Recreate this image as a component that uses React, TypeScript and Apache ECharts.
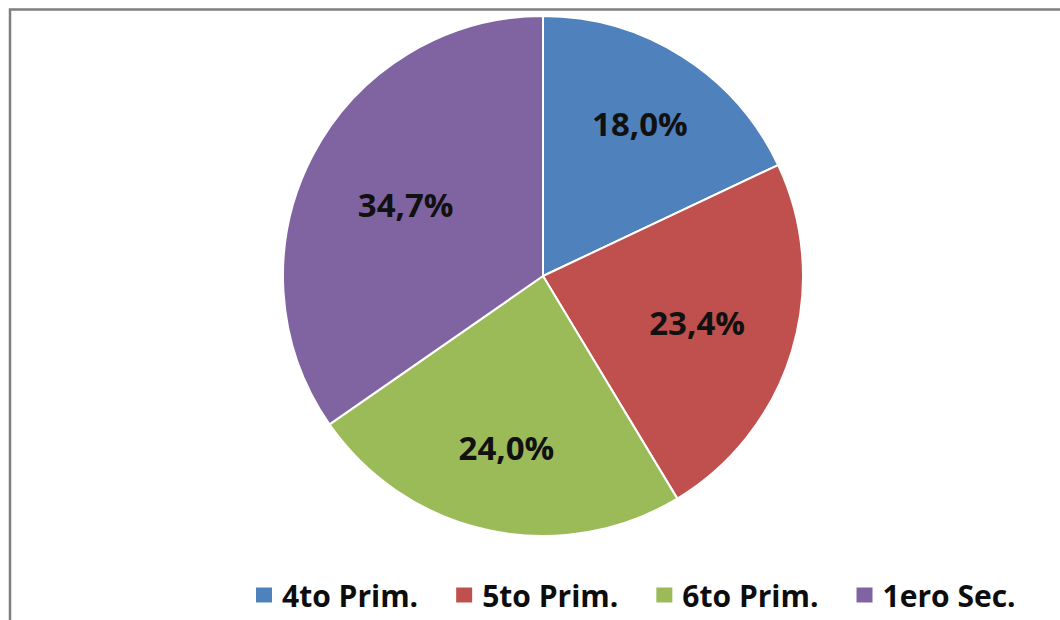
import React, { useEffect, useRef } from "react";
import * as echarts from "echarts";

const categories = ["4to Prim.", "5to Prim.", "6to Prim.", "1ero Sec."];
const values = [18.0, 23.4, 24.0, 34.7];
const colors = ["#4F81BD", "#C0504D", "#9BBB59", "#8064A2"];

// distance of each percentage label from the pie centre (px)
const labelRadius = [178, 158, 172, 152];

export default function App() {
  const ref = useRef<HTMLDivElement>(null);
  useEffect(() => {
    const chart = echarts.init(ref.current!, null, { renderer: "svg" });
    const data = categories.map((name, i) => ({ name, value: values[i] }));
    const center = [543, 276];
    const labelSeries = categories.map((_, j) => ({
      type: "pie",
      name: "lbl" + j,
      center,
      radius: [0, labelRadius[j] * 2],
      startAngle: 90,
      clockwise: true,
      silent: true,
      legendHoverLink: false,
      z: 5,
      data: data.map((d, i) => ({
        ...d,
        label: { show: i === j },
      })),
      itemStyle: { color: "transparent", borderWidth: 0 },
      emphasis: { disabled: true },
      label: {
        position: "inside",
        formatter: (p: any) => p.value.toFixed(1).replace(".", ",") + "%",
        fontFamily: "Open Sans",
        fontWeight: "bold",
        fontSize: 33,
        color: "#111111",
      },
      labelLine: { show: false },
    }));
    chart.setOption({
      animation: false,
      backgroundColor: "#ffffff",
      color: colors,
      graphic: [
        {
          type: "rect",
          shape: { x: 10, y: 9.5, width: 1100, height: 700 },
          style: { fill: "none", stroke: "#7f7f7f", lineWidth: 2.5 },
          silent: true,
        },
      ],
      legend: {
        data: categories,
        left: 249,
        top: 575,
        itemWidth: 18,
        itemHeight: 17,
        itemGap: 36,
        icon: "rect",
        textStyle: {
          fontFamily: "Open Sans",
          fontWeight: "bold",
          fontSize: 30,
          color: "#0d0d0d",
          padding: [0, 0, 0, 4],
        },
      },
      series: [
        {
          type: "pie",
          center,
          radius: [0, 260],
          startAngle: 90,
          clockwise: true,
          data,
          label: { show: false },
          labelLine: { show: false },
          itemStyle: { borderColor: "#ffffff", borderWidth: 2 },
        },
        ...labelSeries,
      ],
    });
    return () => chart.dispose();
  }, []);
  return (
    <div
      ref={ref}
      style={{ position: "absolute", left: 0, top: 0, width: 1060, height: 620 }}
    />
  );
}
